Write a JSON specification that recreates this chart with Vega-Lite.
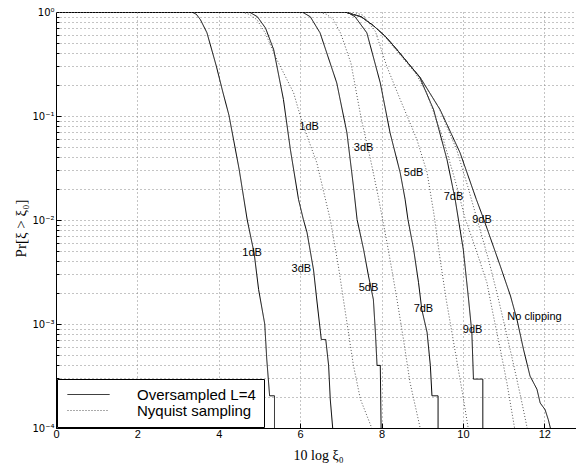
{
  "$schema": "https://vega.github.io/schema/vega-lite/v6.json",
  "width": 520,
  "height": 416,
  "autosize": "none",
  "padding": {"left": 56, "top": 12, "right": 0, "bottom": 39},
  "background": "white",
  "config": {"view": {"stroke": null}, "font": "Liberation Sans"},
  "datasets": {
    "curves": [
      {"s":"O1","t":"Oversampled L=4","x":0,"p":1},{"s":"O1","t":"Oversampled L=4","x":3.34,"p":1},{"s":"O1","t":"Oversampled L=4","x":3.45,"p":0.95},{"s":"O1","t":"Oversampled L=4","x":3.55,"p":0.843},{"s":"O1","t":"Oversampled L=4","x":3.71,"p":0.631},{"s":"O1","t":"Oversampled L=4","x":3.94,"p":0.302},{"s":"O1","t":"Oversampled L=4","x":4.10,"p":0.17},{"s":"O1","t":"Oversampled L=4","x":4.25,"p":0.102},{"s":"O1","t":"Oversampled L=4","x":4.50,"p":0.0309},{"s":"O1","t":"Oversampled L=4","x":4.70,"p":0.01},{"s":"O1","t":"Oversampled L=4","x":4.87,"p":0.00479},{"s":"O1","t":"Oversampled L=4","x":4.98,"p":0.00214},{"s":"O1","t":"Oversampled L=4","x":5.13,"p":0.001},{"s":"O1","t":"Oversampled L=4","x":5.18,"p":0.000457},{"s":"O1","t":"Oversampled L=4","x":5.25,"p":0.000204},{"s":"O1","t":"Oversampled L=4","x":5.37,"p":0.000204},{"s":"O1","t":"Oversampled L=4","x":5.37,"p":0.0001},
      {"s":"O3","t":"Oversampled L=4","x":0,"p":1},{"s":"O3","t":"Oversampled L=4","x":4.75,"p":1},{"s":"O3","t":"Oversampled L=4","x":4.95,"p":0.90},{"s":"O3","t":"Oversampled L=4","x":5.15,"p":0.70},{"s":"O3","t":"Oversampled L=4","x":5.35,"p":0.434},{"s":"O3","t":"Oversampled L=4","x":5.59,"p":0.144},{"s":"O3","t":"Oversampled L=4","x":5.76,"p":0.0477},{"s":"O3","t":"Oversampled L=4","x":5.96,"p":0.0158},{"s":"O3","t":"Oversampled L=4","x":6.08,"p":0.0101},{"s":"O3","t":"Oversampled L=4","x":6.17,"p":0.00756},{"s":"O3","t":"Oversampled L=4","x":6.33,"p":0.0033},{"s":"O3","t":"Oversampled L=4","x":6.41,"p":0.0017},{"s":"O3","t":"Oversampled L=4","x":6.52,"p":0.00071},{"s":"O3","t":"Oversampled L=4","x":6.63,"p":0.00071},{"s":"O3","t":"Oversampled L=4","x":6.70,"p":0.0004},{"s":"O3","t":"Oversampled L=4","x":6.74,"p":0.00019},{"s":"O3","t":"Oversampled L=4","x":6.80,"p":0.0001},
      {"s":"O5","t":"Oversampled L=4","x":0,"p":1},{"s":"O5","t":"Oversampled L=4","x":6.05,"p":1},{"s":"O5","t":"Oversampled L=4","x":6.25,"p":0.9},{"s":"O5","t":"Oversampled L=4","x":6.49,"p":0.63},{"s":"O5","t":"Oversampled L=4","x":6.90,"p":0.208},{"s":"O5","t":"Oversampled L=4","x":7.15,"p":0.069},{"s":"O5","t":"Oversampled L=4","x":7.31,"p":0.0211},{"s":"O5","t":"Oversampled L=4","x":7.40,"p":0.0101},{"s":"O5","t":"Oversampled L=4","x":7.56,"p":0.0052},{"s":"O5","t":"Oversampled L=4","x":7.68,"p":0.0029},{"s":"O5","t":"Oversampled L=4","x":7.80,"p":0.00172},{"s":"O5","t":"Oversampled L=4","x":7.85,"p":0.00083},{"s":"O5","t":"Oversampled L=4","x":7.89,"p":0.0004},{"s":"O5","t":"Oversampled L=4","x":7.97,"p":0.0004},{"s":"O5","t":"Oversampled L=4","x":7.99,"p":0.0001},
      {"s":"O7","t":"Oversampled L=4","x":0,"p":1},{"s":"O7","t":"Oversampled L=4","x":7.15,"p":1},{"s":"O7","t":"Oversampled L=4","x":7.35,"p":0.9},{"s":"O7","t":"Oversampled L=4","x":7.64,"p":0.63},{"s":"O7","t":"Oversampled L=4","x":7.97,"p":0.208},{"s":"O7","t":"Oversampled L=4","x":8.21,"p":0.069},{"s":"O7","t":"Oversampled L=4","x":8.46,"p":0.0284},{"s":"O7","t":"Oversampled L=4","x":8.58,"p":0.0158},{"s":"O7","t":"Oversampled L=4","x":8.65,"p":0.0101},{"s":"O7","t":"Oversampled L=4","x":8.79,"p":0.0052},{"s":"O7","t":"Oversampled L=4","x":8.91,"p":0.0025},{"s":"O7","t":"Oversampled L=4","x":8.99,"p":0.00138},{"s":"O7","t":"Oversampled L=4","x":9.12,"p":0.00083},{"s":"O7","t":"Oversampled L=4","x":9.20,"p":0.0004},{"s":"O7","t":"Oversampled L=4","x":9.24,"p":0.000204},{"s":"O7","t":"Oversampled L=4","x":9.39,"p":0.000204},{"s":"O7","t":"Oversampled L=4","x":9.39,"p":0.0001},
      {"s":"O9","t":"Oversampled L=4","x":0,"p":1},{"s":"O9","t":"Oversampled L=4","x":7.1,"p":1},{"s":"O9","t":"Oversampled L=4","x":7.5,"p":0.9},{"s":"O9","t":"Oversampled L=4","x":7.80,"p":0.74},{"s":"O9","t":"Oversampled L=4","x":8.10,"p":0.58},{"s":"O9","t":"Oversampled L=4","x":8.38,"p":0.434},{"s":"O9","t":"Oversampled L=4","x":8.66,"p":0.32},{"s":"O9","t":"Oversampled L=4","x":8.94,"p":0.235},{"s":"O9","t":"Oversampled L=4","x":9.28,"p":0.115},{"s":"O9","t":"Oversampled L=4","x":9.61,"p":0.038},{"s":"O9","t":"Oversampled L=4","x":9.81,"p":0.0158},{"s":"O9","t":"Oversampled L=4","x":10.01,"p":0.0052},{"s":"O9","t":"Oversampled L=4","x":10.14,"p":0.00172},{"s":"O9","t":"Oversampled L=4","x":10.22,"p":0.00083},{"s":"O9","t":"Oversampled L=4","x":10.26,"p":0.000295},{"s":"O9","t":"Oversampled L=4","x":10.49,"p":0.000295},{"s":"O9","t":"Oversampled L=4","x":10.49,"p":0.0001},
      {"s":"NC","t":"Oversampled L=4","x":0,"p":1},{"s":"NC","t":"Oversampled L=4","x":7.1,"p":1},{"s":"NC","t":"Oversampled L=4","x":7.5,"p":0.9},{"s":"NC","t":"Oversampled L=4","x":7.80,"p":0.74},{"s":"NC","t":"Oversampled L=4","x":8.10,"p":0.58},{"s":"NC","t":"Oversampled L=4","x":8.38,"p":0.434},{"s":"NC","t":"Oversampled L=4","x":8.66,"p":0.32},{"s":"NC","t":"Oversampled L=4","x":8.95,"p":0.235},{"s":"NC","t":"Oversampled L=4","x":9.44,"p":0.115},{"s":"NC","t":"Oversampled L=4","x":9.93,"p":0.0444},{"s":"NC","t":"Oversampled L=4","x":10.33,"p":0.0158},{"s":"NC","t":"Oversampled L=4","x":10.52,"p":0.01},{"s":"NC","t":"Oversampled L=4","x":10.92,"p":0.0036},{"s":"NC","t":"Oversampled L=4","x":11.17,"p":0.00186},{"s":"NC","t":"Oversampled L=4","x":11.33,"p":0.0011},{"s":"NC","t":"Oversampled L=4","x":11.49,"p":0.00057},{"s":"NC","t":"Oversampled L=4","x":11.65,"p":0.000316},{"s":"NC","t":"Oversampled L=4","x":11.82,"p":0.000236},{"s":"NC","t":"Oversampled L=4","x":11.90,"p":0.000174},{"s":"NC","t":"Oversampled L=4","x":12.02,"p":0.00015},{"s":"NC","t":"Oversampled L=4","x":12.10,"p":0.00012},{"s":"NC","t":"Oversampled L=4","x":12.15,"p":0.0001},
      {"s":"N1","t":"Nyquist sampling","x":0,"p":1},{"s":"N1","t":"Nyquist sampling","x":4.55,"p":1},{"s":"N1","t":"Nyquist sampling","x":4.75,"p":0.95},{"s":"N1","t":"Nyquist sampling","x":4.94,"p":0.843},{"s":"N1","t":"Nyquist sampling","x":5.15,"p":0.62},{"s":"N1","t":"Nyquist sampling","x":5.43,"p":0.348},{"s":"N1","t":"Nyquist sampling","x":5.84,"p":0.167},{"s":"N1","t":"Nyquist sampling","x":6.02,"p":0.095},{"s":"N1","t":"Nyquist sampling","x":6.21,"p":0.058},{"s":"N1","t":"Nyquist sampling","x":6.41,"p":0.0355},{"s":"N1","t":"Nyquist sampling","x":6.74,"p":0.0101},{"s":"N1","t":"Nyquist sampling","x":6.94,"p":0.0036},{"s":"N1","t":"Nyquist sampling","x":7.15,"p":0.00103},{"s":"N1","t":"Nyquist sampling","x":7.31,"p":0.0004},{"s":"N1","t":"Nyquist sampling","x":7.48,"p":0.00019},{"s":"N1","t":"Nyquist sampling","x":7.76,"p":0.0001},
      {"s":"N3","t":"Nyquist sampling","x":0,"p":1},{"s":"N3","t":"Nyquist sampling","x":6.45,"p":1},{"s":"N3","t":"Nyquist sampling","x":6.65,"p":0.95},{"s":"N3","t":"Nyquist sampling","x":6.82,"p":0.843},{"s":"N3","t":"Nyquist sampling","x":7.0,"p":0.62},{"s":"N3","t":"Nyquist sampling","x":7.25,"p":0.32},{"s":"N3","t":"Nyquist sampling","x":7.50,"p":0.095},{"s":"N3","t":"Nyquist sampling","x":7.72,"p":0.0398},{"s":"N3","t":"Nyquist sampling","x":7.92,"p":0.0168},{"s":"N3","t":"Nyquist sampling","x":8.12,"p":0.0065},{"s":"N3","t":"Nyquist sampling","x":8.24,"p":0.00357},{"s":"N3","t":"Nyquist sampling","x":8.38,"p":0.00172},{"s":"N3","t":"Nyquist sampling","x":8.54,"p":0.00071},{"s":"N3","t":"Nyquist sampling","x":8.70,"p":0.000275},{"s":"N3","t":"Nyquist sampling","x":8.95,"p":0.0001},
      {"s":"N5","t":"Nyquist sampling","x":0,"p":1},{"s":"N5","t":"Nyquist sampling","x":7.3,"p":1},{"s":"N5","t":"Nyquist sampling","x":7.55,"p":0.93},{"s":"N5","t":"Nyquist sampling","x":7.85,"p":0.65},{"s":"N5","t":"Nyquist sampling","x":8.13,"p":0.30},{"s":"N5","t":"Nyquist sampling","x":8.46,"p":0.144},{"s":"N5","t":"Nyquist sampling","x":8.87,"p":0.0593},{"s":"N5","t":"Nyquist sampling","x":9.12,"p":0.0286},{"s":"N5","t":"Nyquist sampling","x":9.29,"p":0.0113},{"s":"N5","t":"Nyquist sampling","x":9.44,"p":0.0042},{"s":"N5","t":"Nyquist sampling","x":9.59,"p":0.00172},{"s":"N5","t":"Nyquist sampling","x":9.74,"p":0.00079},{"s":"N5","t":"Nyquist sampling","x":9.88,"p":0.00038},{"s":"N5","t":"Nyquist sampling","x":10.01,"p":0.000195},{"s":"N5","t":"Nyquist sampling","x":10.13,"p":0.0001},
      {"s":"N7","t":"Nyquist sampling","x":0,"p":1},{"s":"N7","t":"Nyquist sampling","x":7.1,"p":1},{"s":"N7","t":"Nyquist sampling","x":7.5,"p":0.9},{"s":"N7","t":"Nyquist sampling","x":7.8,"p":0.74},{"s":"N7","t":"Nyquist sampling","x":8.10,"p":0.57},{"s":"N7","t":"Nyquist sampling","x":8.38,"p":0.42},{"s":"N7","t":"Nyquist sampling","x":8.83,"p":0.26},{"s":"N7","t":"Nyquist sampling","x":9.11,"p":0.168},{"s":"N7","t":"Nyquist sampling","x":9.52,"p":0.0593},{"s":"N7","t":"Nyquist sampling","x":9.85,"p":0.0211},{"s":"N7","t":"Nyquist sampling","x":10.05,"p":0.0105},{"s":"N7","t":"Nyquist sampling","x":10.30,"p":0.0055},{"s":"N7","t":"Nyquist sampling","x":10.59,"p":0.0025},{"s":"N7","t":"Nyquist sampling","x":10.75,"p":0.0012},{"s":"N7","t":"Nyquist sampling","x":10.92,"p":0.00057},{"s":"N7","t":"Nyquist sampling","x":11.08,"p":0.000274},{"s":"N7","t":"Nyquist sampling","x":11.27,"p":0.0001},
      {"s":"N9","t":"Nyquist sampling","x":0,"p":1},{"s":"N9","t":"Nyquist sampling","x":7.1,"p":1},{"s":"N9","t":"Nyquist sampling","x":7.5,"p":0.9},{"s":"N9","t":"Nyquist sampling","x":7.8,"p":0.74},{"s":"N9","t":"Nyquist sampling","x":8.10,"p":0.58},{"s":"N9","t":"Nyquist sampling","x":8.38,"p":0.434},{"s":"N9","t":"Nyquist sampling","x":8.95,"p":0.235},{"s":"N9","t":"Nyquist sampling","x":9.42,"p":0.118},{"s":"N9","t":"Nyquist sampling","x":9.85,"p":0.047},{"s":"N9","t":"Nyquist sampling","x":10.12,"p":0.021},{"s":"N9","t":"Nyquist sampling","x":10.37,"p":0.0095},{"s":"N9","t":"Nyquist sampling","x":10.62,"p":0.0043},{"s":"N9","t":"Nyquist sampling","x":10.85,"p":0.0019},{"s":"N9","t":"Nyquist sampling","x":11.05,"p":0.00088},{"s":"N9","t":"Nyquist sampling","x":11.25,"p":0.0004},{"s":"N9","t":"Nyquist sampling","x":11.42,"p":0.0002},{"s":"N9","t":"Nyquist sampling","x":11.58,"p":0.0001}
    ],
    "labels": [
      {"label":"1dB","x":6.22,"p":0.0791},
      {"label":"3dB","x":7.56,"p":0.0494},
      {"label":"5dB","x":8.79,"p":0.0284},
      {"label":"7dB","x":9.77,"p":0.0167},
      {"label":"9dB","x":10.47,"p":0.00996},
      {"label":"1dB","x":4.82,"p":0.00477},
      {"label":"3dB","x":6.03,"p":0.00335},
      {"label":"5dB","x":7.68,"p":0.00223},
      {"label":"7dB","x":9.03,"p":0.0014},
      {"label":"9dB","x":10.24,"p":0.000868},
      {"label":"No clipping","x":11.76,"p":0.00116}
    ]
  },
  "layer": [
    {
      "data": {"name": "curves"},
      "mark": {"type": "line", "strokeWidth": 1, "clip": true},
      "encoding": {
        "x": {
          "field": "x", "type": "quantitative",
          "scale": {"domain": [0, 12.78], "nice": false, "zero": false},
          "axis": {
            "values": [0, 2, 4, 6, 8, 10, 12],
            "grid": true, "gridDash": [1, 3], "gridColor": "#888888",
            "domainColor": "black", "tickColor": "black", "tickSize": -5,
            "labelFontSize": 11, "labelColor": "black", "labelPadding": 5, "labelFlush": false,
            "title": "10 log ξ₀", "titleFont": "Liberation Serif", "titleFontSize": 14,
            "titleFontWeight": "normal", "titleColor": "black",
            "titleX": 262, "titleY": 27, "titleBaseline": "middle"
          }
        },
        "y": {
          "field": "p", "type": "quantitative",
          "scale": {"type": "log", "domain": [0.0001, 1], "nice": false},
          "axis": {
            "values": [0.0001,0.0002,0.0003,0.0004,0.0005,0.0006,0.0007,0.0008,0.0009,0.001,0.002,0.003,0.004,0.005,0.006,0.007,0.008,0.009,0.01,0.02,0.03,0.04,0.05,0.06,0.07,0.08,0.09,0.1,0.2,0.3,0.4,0.5,0.6,0.7,0.8,0.9,1],
            "labelExpr": "datum.value == 1 ? '10⁰' : datum.value == 0.1 ? '10⁻¹' : datum.value == 0.01 ? '10⁻²' : datum.value == 0.001 ? '10⁻³' : datum.value == 0.0001 ? '10⁻⁴' : ''",
            "labelOverlap": false,
            "grid": true, "gridDash": [1, 3], "gridColor": "#888888",
            "domainColor": "black", "tickColor": "black",
            "tickSize": {"condition": {"test": "datum.value == 1 || datum.value == 0.1 || datum.value == 0.01 || datum.value == 0.001 || datum.value == 0.0001", "value": -5}, "value": -3},
            "labelFont": "DejaVu Sans", "labelFontSize": 10, "labelColor": "black", "labelPadding": 7, "labelFlush": false,
            "labelBaseline": "middle",
            "title": "Pr[ξ > ξ₀]", "titleFont": "Liberation Serif", "titleFontSize": 15,
            "titleFontWeight": "normal", "titleColor": "black",
            "titleX": -36, "titleY": 216, "titleBaseline": "middle", "titleAlign": "center"
          }
        },
        "detail": {"field": "s"},
        "color": {
          "field": "t", "type": "nominal",
          "scale": {"domain": ["Oversampled L=4", "Nyquist sampling"], "range": ["#000000", "#555555"]},
          "legend": {
            "orient": "bottom-left", "offset": 1, "title": null,
            "symbolType": "M-3,0H3", "symbolSize": 196, "symbolStrokeWidth": 1,
            "labelFontSize": 15, "labelFont": "Liberation Sans", "labelColor": "black",
            "strokeColor": "black", "fillColor": "white", "padding": 8, "rowPadding": -3,
            "symbolOffset": 16, "labelOffset": 41
          }
        },
        "strokeDash": {
          "field": "t", "type": "nominal",
          "scale": {"domain": ["Oversampled L=4", "Nyquist sampling"], "range": [[1, 0], [1, 2]]},
          "legend": {
            "orient": "bottom-left", "offset": 1, "title": null,
            "symbolType": "M-3,0H3", "symbolSize": 196, "symbolStrokeWidth": 1,
            "labelFontSize": 15, "labelFont": "Liberation Sans", "labelColor": "black",
            "strokeColor": "black", "fillColor": "white", "padding": 8, "rowPadding": -3,
            "symbolOffset": 16, "labelOffset": 41
          }
        },
        "order": {"value": null}
      }
    },
    {
      "data": {"name": "labels"},
      "mark": {"type": "text", "fontSize": 11, "font": "Liberation Sans", "color": "black"},
      "encoding": {
        "x": {"field": "x", "type": "quantitative"},
        "y": {"field": "p", "type": "quantitative"},
        "text": {"field": "label"}
      }
    },
    {
      "mark": {"type": "rule", "color": "black", "strokeWidth": 1},
      "encoding": {"y": {"datum": 1}}
    }
  ]
}
